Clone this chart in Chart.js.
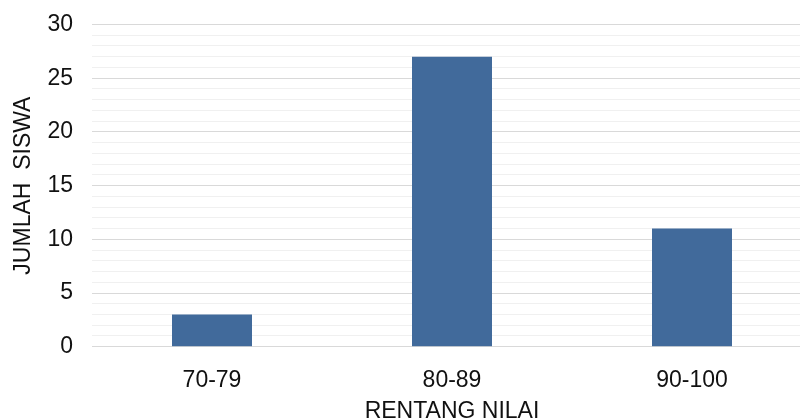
<!DOCTYPE html>
<html>
<head>
<meta charset="utf-8">
<script src="https://cdn.jsdelivr.net/npm/chart.js"></script>
<style>
  body { margin: 0; overflow: hidden; background: #fff; }
  #wrap { width: 800px; height: 420px; overflow: hidden; }
</style>
</head>
<body>
<div id="wrap">
  <canvas id="myChart" width="812" height="420"></canvas>
</div>
<script>
const categories = ['70-79', '80-89', '90-100'];
const jumlahSiswa = [3, 27, 11];
const yTicks = [0, 5, 10, 15, 20, 25, 30];

Chart.defaults.font.family = '"Liberation Sans", Arial, sans-serif';
Chart.defaults.font.size = 23;
Chart.defaults.color = '#111';

const ctx = document.getElementById('myChart');

new Chart(ctx, {
  type: 'bar',
  data: {
    labels: categories,
    datasets: [{
      data: jumlahSiswa,
      backgroundColor: '#416a9b',
      borderWidth: 0,
      barPercentage: 1,
      categoryPercentage: 1 / 3
    }]
  },
  options: {
    responsive: false,
    animation: false,
    layout: { padding: { top: 24.5, left: 0, right: 0, bottom: 0 } },
    plugins: {
      legend: { display: false },
      tooltip: { enabled: false }
    },
    scales: {
      x: {
        grid: { display: false },
        border: { display: false },
        ticks: { padding: 12 },
        title: {
          display: true,
          text: 'RENTANG NILAI',
          font: { lineHeight: 1 },
          // title sits partly off the bottom edge like the original
          padding: { top: 0, bottom: -3.5 }
        },
        afterFit: function (scale) { scale.height = 73.3; }
      },
      y: {
        min: 0,
        max: 30,
        border: { display: false },
        grid: {
          // tick marks hidden, only used to push the labels left
          drawTicks: true,
          tickLength: 19,
          tickColor: 'rgba(0,0,0,0)',
          color: function (c) {
            return yTicks.includes(c.tick.value) ? '#d9d9d9' : '#f0f0f0';
          }
        },
        ticks: {
          stepSize: 1,
          autoSkip: false,
          maxTicksLimit: 31,
          padding: 0,
          callback: function (v) { return yTicks.includes(v) ? v : ''; }
        },
        title: {
          display: true,
          text: 'JUMLAH  SISWA',
          padding: { top: 10, bottom: 0 }
        },
        afterFit: function (scale) { scale.width = 92; }
      }
    }
  }
});
</script>
</body>
</html>
